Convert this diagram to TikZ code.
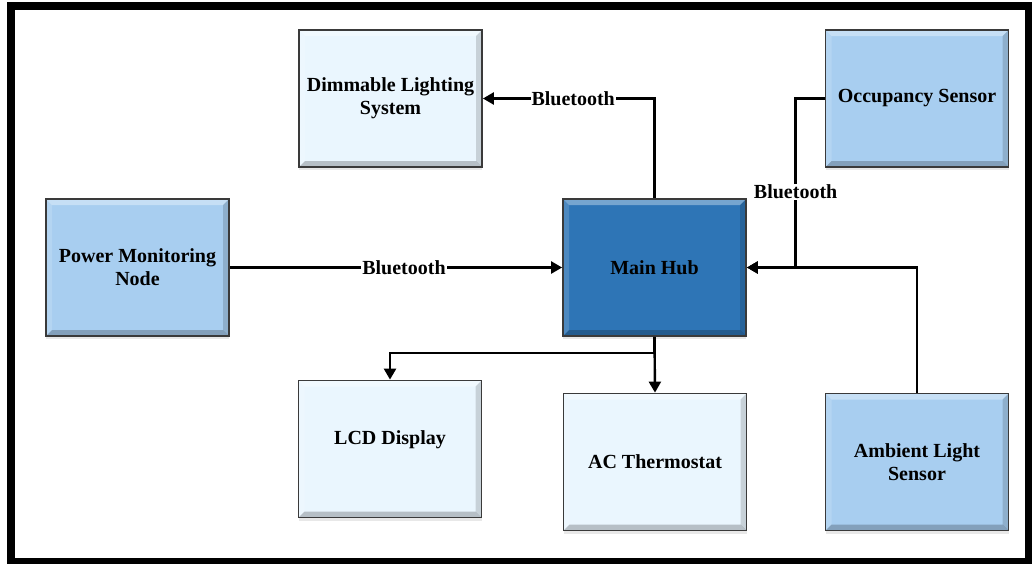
\documentclass[tikz,border=0pt]{standalone}
\usepackage{fontspec}
\setmainfont{Liberation Serif}
\usetikzlibrary{arrows.meta,shadows}
\definecolor{lightfill}{HTML}{EAF6FE}
\definecolor{midfill}{HTML}{A8CEF0}
\definecolor{hubfill}{HTML}{2E75B6}
\definecolor{edgegray}{HTML}{3A3A3A}
\tikzset{
  bevel/.style={path picture={
    \fill[white,opacity=0.35] (path picture bounding box.north west) -- (path picture bounding box.north east)
      -- ([xshift=-6pt,yshift=-6pt]path picture bounding box.north east) -- ([xshift=6pt,yshift=-6pt]path picture bounding box.north west) -- cycle;
    \fill[white,opacity=0.15] (path picture bounding box.north west) -- (path picture bounding box.south west)
      -- ([xshift=6pt,yshift=6pt]path picture bounding box.south west) -- ([xshift=6pt,yshift=-6pt]path picture bounding box.north west) -- cycle;
    \fill[black,opacity=0.22] (path picture bounding box.south west) -- (path picture bounding box.south east)
      -- ([xshift=-6pt,yshift=6pt]path picture bounding box.south east) -- ([xshift=6pt,yshift=6pt]path picture bounding box.south west) -- cycle;
    \fill[black,opacity=0.15] (path picture bounding box.north east) -- (path picture bounding box.south east)
      -- ([xshift=-6pt,yshift=6pt]path picture bounding box.south east) -- ([xshift=-6pt,yshift=-6pt]path picture bounding box.north east) -- cycle;
  }},
  blk/.style={draw=edgegray, line width=1.8pt, minimum width=183pt, minimum height=137pt,
    inner sep=2pt, align=center, font=\fontsize{20}{23}\selectfont\bfseries,
    bevel,
    drop shadow={opacity=0.18, shadow xshift=0pt, shadow yshift=-3pt}},
  lightblk/.style={blk, fill=lightfill},
  midblk/.style={blk, fill=midfill},
  hubblk/.style={blk, fill=hubfill},
  conn/.style={line width=2.4pt, -{Triangle[length=11pt,width=12pt]}},
  lbl/.style={fill=white, inner sep=1pt, font=\fontsize{20}{23}\selectfont\bfseries}
}
\begin{document}
\begin{tikzpicture}[x=1pt,y=-1pt]
\useasboundingbox (0,0) rectangle (1032,563);
\fill[white] (0,0) rectangle (1032,563);
\draw[line width=8pt] (10.5,5.5) rectangle (1028.5,561.5);

\node[lightblk] (dim) at (390.5,98.5) {Dimmable Lighting\\System};
\node[midblk] (occ) at (917,98.5) {Occupancy Sensor};
\node[midblk] (pwr) at (137.5,267.5) {Power Monitoring\\Node};
\node[hubblk] (hub) at (654.5,267.5) {Main Hub};
\node[lightblk, text height=13pt, text depth=22pt] (lcd) at (390,449) {LCD Display};
\node[lightblk] (ac) at (655,462) {AC Thermostat};
\node[midblk] (amb) at (917,462) {Ambient Light\\Sensor};

\draw[conn] (hub.north) |- node[lbl, pos=0.737] {Bluetooth} (dim.east);
\draw[conn] (occ.west) -- ++(-29,0) |- node[lbl, pos=0.276] {Bluetooth} (hub.east);
\draw[conn] (amb.north) |- (hub.east);
\draw[conn] (pwr.east) -- node[lbl, pos=0.524] {Bluetooth} (hub.west);
\draw[conn] (hub.south) -- (ac.north);
\draw[conn] (hub.south) -- ++(0,16) -| (lcd.north);
\end{tikzpicture}
\end{document}
